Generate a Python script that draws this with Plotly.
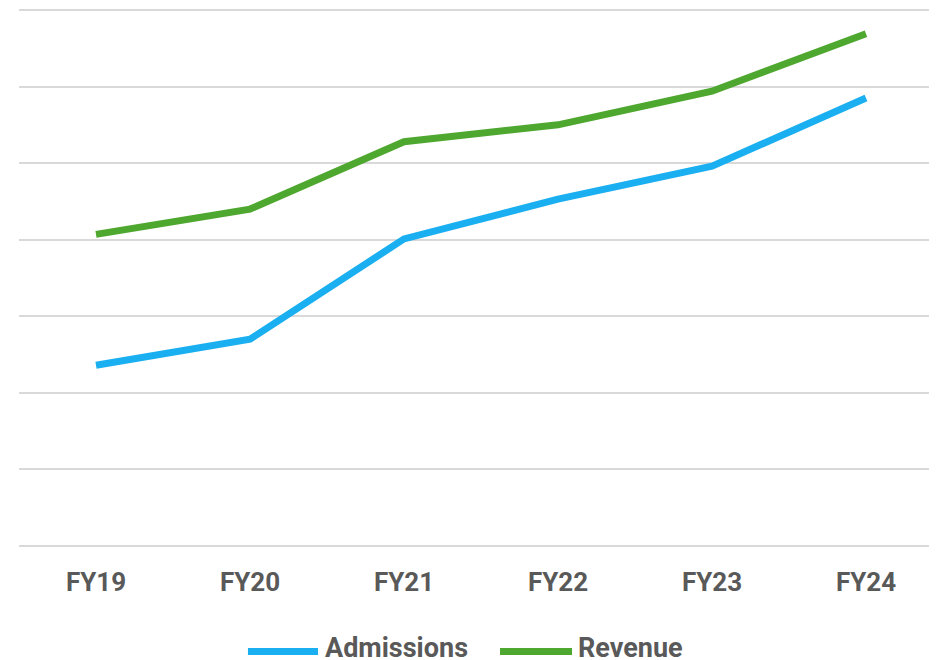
import plotly.graph_objects as go

# fiscal years and the two series (arbitrary units)
years = ["FY19", "FY20", "FY21", "FY22", "FY23", "FY24"]
admissions = [23.6, 27.0, 40.1, 45.3, 49.6, 58.5]
revenue = [40.7, 44.0, 52.8, 55.0, 59.4, 66.9]

blue = "#1aaff0"
green = "#4ea72e"
text_col = "#595959"
grid_col = "#d9d9d9"

fig = go.Figure()
fig.add_trace(go.Scatter(x=years, y=admissions, mode="lines", name="Admissions",
                         line=dict(color=blue, width=7)))
fig.add_trace(go.Scatter(x=years, y=revenue, mode="lines", name="Revenue",
                         line=dict(color=green, width=7)))

# legend drawn by hand so the line samples are as long as in the original
legend_items = [("Admissions", blue, 0.2478, 0.3236, 0.329),
                ("Revenue", green, 0.5206, 0.5985, 0.6028)]
for label, col, x0, x1, xt in legend_items:
    fig.add_shape(type="line", xref="paper", yref="paper", x0=x0, x1=x1,
                  y0=-0.196, y1=-0.196, line=dict(color=col, width=7))
    fig.add_annotation(text="<b>%s</b>" % label, xref="paper", yref="paper",
                       x=xt, y=-0.19, xanchor="left", yanchor="middle",
                       showarrow=False, font=dict(size=27, color=text_col))

fig.update_layout(
    width=937, height=660,
    margin=dict(l=11, r=2, t=0, b=122),
    plot_bgcolor="white", paper_bgcolor="white",
    showlegend=False,
    font=dict(family="Roboto", color=text_col),
    xaxis=dict(range=[-0.5, 5.5], showgrid=False, zeroline=False,
               showline=False, ticks="", ticklabelstandoff=18,
               tickfont=dict(size=26, family="Roboto", weight="bold", color=text_col)),
    yaxis=dict(range=[0, 70.26], dtick=10, showgrid=True, gridcolor=grid_col,
               gridwidth=2, zeroline=True, zerolinecolor=grid_col, zerolinewidth=2,
               showticklabels=False, ticks=""),
)

fig.write_html("out.html")
